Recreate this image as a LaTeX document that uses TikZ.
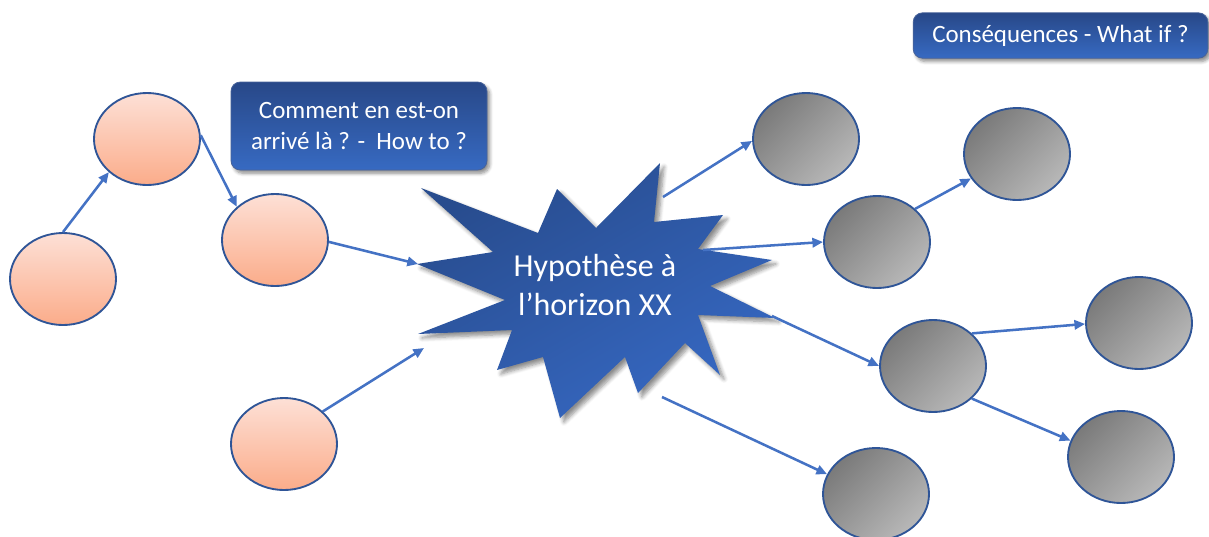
\documentclass[tikz,border=0pt]{standalone}
\usepackage{fontspec}
\setmainfont{Carlito}
\usetikzlibrary{shadows,shadows.blur,arrows.meta,shapes.geometric}
\definecolor{arrowblue}{RGB}{68,114,196}
\definecolor{edgeblue}{RGB}{47,85,151}
\definecolor{pinktop}{RGB}{253,224,214}
\definecolor{pinkbot}{RGB}{251,172,138}
\definecolor{graydark}{RGB}{122,122,122}
\definecolor{graylight}{RGB}{184,184,184}
\definecolor{boxtop}{RGB}{40,72,136}
\definecolor{boxbot}{RGB}{55,106,194}
\definecolor{startop}{RGB}{40,76,142}
\definecolor{starbot}{RGB}{54,104,194}
\begin{document}
\begin{tikzpicture}[x=0.75pt,y=-0.75pt,
  baseell/.style={ellipse, draw=edgeblue, line width=1.4pt, minimum width=79.5pt, minimum height=69pt, inner sep=0pt},
  pinkell/.style={baseell, top color=pinktop, bottom color=pinkbot},
  grayell/.style={baseell, top color=graydark, bottom color=graylight, shading angle=45},
  conn/.style={draw=arrowblue, line width=1.9pt, -{Triangle[length=8pt,width=7pt]}},
  titlebox/.style={rounded corners=7pt, top color=boxtop, bottom color=boxbot, draw=boxtop!85!white, line width=0.6pt, text=white, font=\fontsize{18.7}{23.8}\selectfont, align=center, inner sep=0pt, blur shadow={shadow xshift=2pt,shadow yshift=-2.5pt,shadow opacity=45,shadow blur steps=6,shadow blur radius=2.5pt}},
  startext/.style={text=white, font=\fontsize{24}{28.8}\selectfont, align=center}
]
\useasboundingbox (0,0) rectangle (1209,536);

% title boxes
\node[titlebox, minimum width=192pt, minimum height=66pt] (how) at (359,126) {Comment en est-on\\arrivé là ? -\ \ How to ?};
\node[titlebox, minimum width=221pt, minimum height=34pt] (what) at (1060.5,35.5) {Conséquences - What if ?};

% star
\path[top color=startop, bottom color=starbot, shading angle=30,
      blur shadow={shadow xshift=3pt,shadow yshift=-3pt,shadow opacity=45,shadow blur steps=6,shadow blur radius=3pt}]
  (421,188) -- (538,233) -- (557,189) -- (596,228) -- (660,163) -- (654,222)
  -- (723,215) -- (698,249) -- (772,260) -- (710,286) -- (775,318) -- (698,315)
  -- (720,375) -- (685,343) -- (638,393) -- (625,357) -- (560,418) -- (543,357)
  -- (497,370) -- (512,330) -- (418,334) -- (505,300) -- (417,264) -- (493,252) -- cycle;
\node[startext] (hyp) at (595,285) {Hypothèse à\\l’horizon XX};

% star connection points
\coordinate (inA) at (418,264);
\coordinate (inB) at (424,348);
\coordinate (outA) at (663,197);
\coordinate (outB) at (703,250);
\coordinate (outC) at (772,316);
\coordinate (outD) at (662,397);

% pink ellipses
\node[pinkell] (P1) at (63,279) {};
\node[pinkell] (P2) at (147,139) {};
\node[pinkell] (P3) at (275,240) {};
\node[pinkell] (P4) at (284,444) {};

% gray ellipses
\node[grayell] (G1) at (806,139) {};
\node[grayell] (G2) at (1017,154) {};
\node[grayell] (G3) at (877,242) {};
\node[grayell] (G4) at (1139,323) {};
\node[grayell] (G5) at (933,366) {};
\node[grayell] (G6) at (1121,457) {};
\node[grayell] (G7) at (876,494) {};

% connectors
\draw[conn] (P1.90) -- (P2.221);
\draw[conn] (P2.4) -- (P3.139);
\draw[conn] (P3.-2) -- (inA);
\draw[conn] (P4.40) -- (inB);
\draw[conn] (outA) -- (G1.182);
\draw[conn] (outB) -- (G3.180);
\draw[conn] (outC) -- (G5.180);
\draw[conn] (outD) -- (G7.158);
\draw[conn] (G3.41) -- (G2.208);
\draw[conn] (G5.40) -- (G4.181);
\draw[conn] (G5.-40) -- (G6.162);
\end{tikzpicture}
\end{document}
